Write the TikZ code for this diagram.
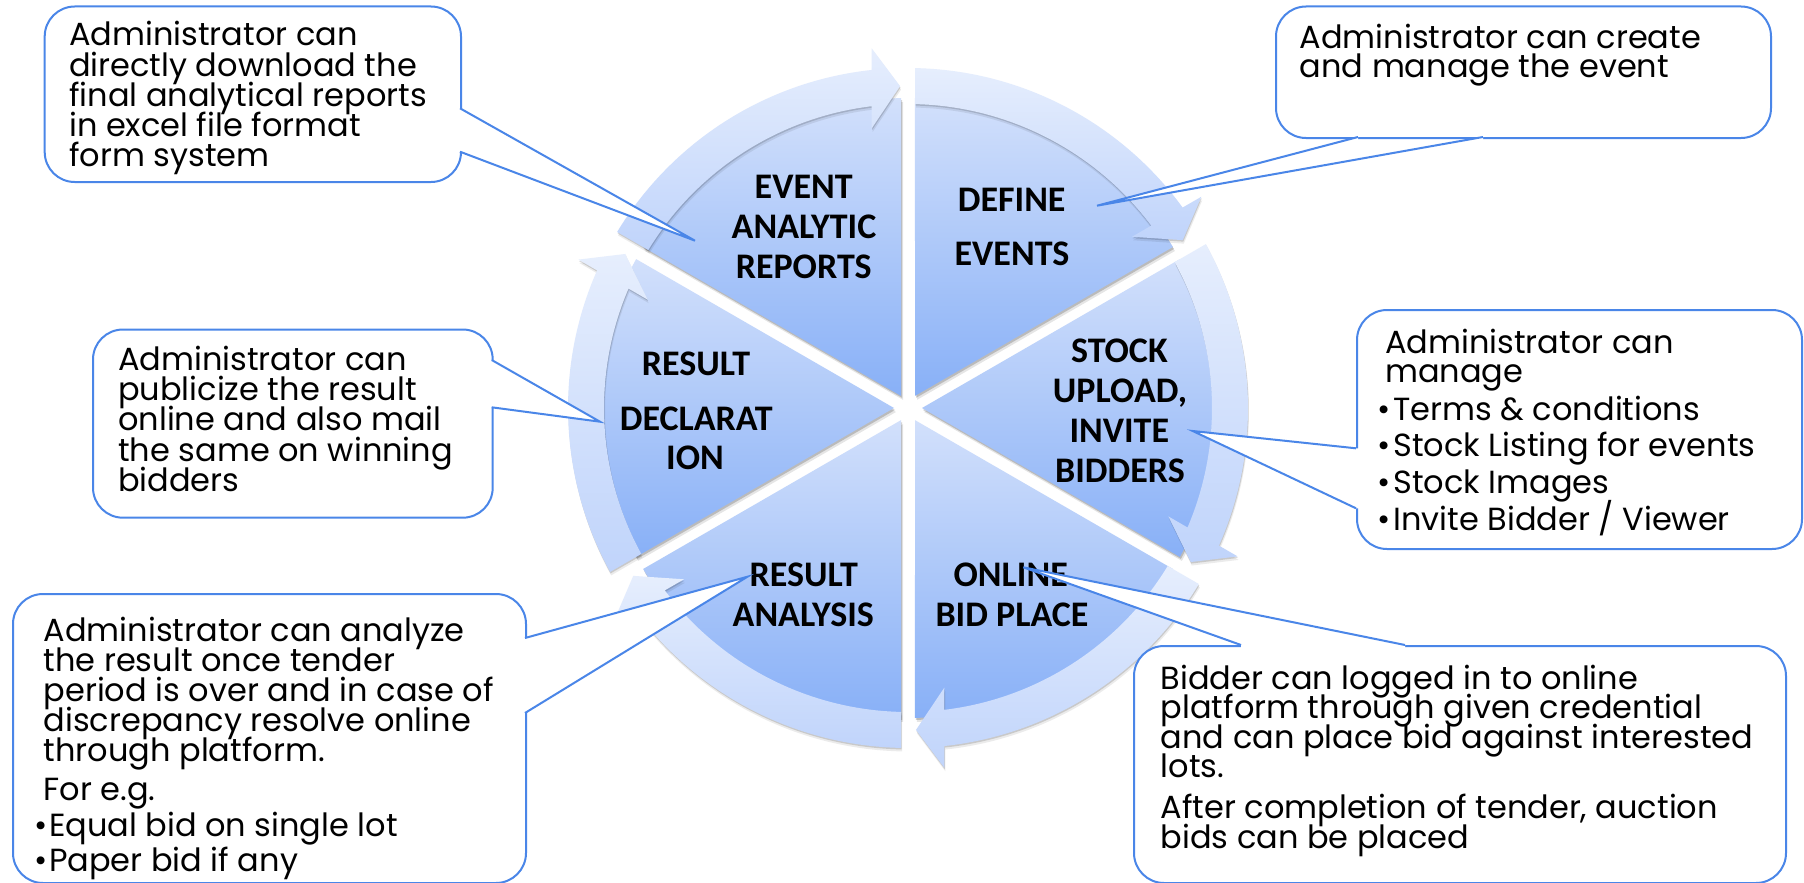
\documentclass[tikz,border=0pt]{standalone}
\usepackage{fontspec}
\newfontfamily\popfont{Poppins}
\newfontfamily\calfont{Carlito}
\usetikzlibrary{shadows,calc}
\definecolor{cblue}{HTML}{4A86E8}
\definecolor{pietop}{HTML}{D2E0FB}
\definecolor{piebot}{HTML}{88B0F7}
\definecolor{bandtop}{HTML}{E6EEFD}
\definecolor{bandbot}{HTML}{C0D4FB}
\newcommand\calloutline[4]{\node[ctext] (#1) at (#2,-#3) {#4};}
\newcommand\wheellabel[4]{\node[lab] (#1) at (#2,-#3) {#4};}
\begin{document}
\begin{tikzpicture}[x=1pt,y=1pt,
  pie/.style={top color=pietop, bottom color=piebot,
    drop shadow={shadow xshift=1pt, shadow yshift=-2pt, opacity=0.18, fill=black},
    drop shadow={shadow xshift=2pt, shadow yshift=-4pt, opacity=0.10, fill=black}},
  band/.style={top color=bandtop, bottom color=bandbot,
    drop shadow={shadow xshift=0.5pt, shadow yshift=-1.5pt, opacity=0.14, fill=black},
    drop shadow={shadow xshift=1pt, shadow yshift=-3.5pt, opacity=0.08, fill=black}},
  lab/.style={font=\calfont\bfseries\fontsize{36}{40}\selectfont, anchor=base, inner sep=0pt},
  ctext/.style={font=\popfont\fontsize{32}{30}\selectfont, anchor=base west, inner sep=0pt},
  callbox/.style={draw=cblue, line width=2pt, fill=white, rounded corners=30pt,
    inner sep=0pt, anchor=north west},
  cline/.style={draw=cblue, line width=2pt, line join=miter},
]
\useasboundingbox (0,0) rectangle (1804,-883);
\fill[white] (0,0) rectangle (1804,-883);

% ---------- wheel ----------
\coordinate (C) at (908,-408);
\begin{scope}[shift={(908,-408)}]
\foreach \s in {150,90,30,-30,-90,-150} {
  \pgfmathsetmacro\e{\s-60}
  \path[pie] (\s-30:14) -- (\s-1.29:310)
     arc[start angle=\s-1.29, end angle=\e+1.29, radius=310] -- cycle;
}
\foreach \s in {150,90,30,-30,-90,-150} {
  \pgfmathsetmacro\e{\s-60}
  \path[band] (\s-1.32:304) -- (\s-1.18:340)
     arc[start angle=\s-1.18, end angle=\e+6.13, radius=340]
     -- (\e+5.76:361.5) -- (\e+1.42:322) -- (\e+7.4:282) -- (\e+6.86:304)
     arc[start angle=\e+6.86, end angle=\s-1.32, radius=304] -- cycle;
}
\end{scope}

\wheellabel{l1a}{803.7}{198.3}{EVENT}
\wheellabel{l1b}{804}{238.3}{ANALYTIC}
\wheellabel{l1c}{803.7}{278.3}{REPORTS}
\wheellabel{l2a}{1011.7}{211.7}{DEFINE}
\wheellabel{l2b}{1012}{265}{EVENTS}
\wheellabel{l3a}{1119.4}{362.3}{STOCK}
\wheellabel{l3b}{1120}{402.3}{UPLOAD,}
\wheellabel{l3c}{1119.3}{442.3}{INVITE}
\wheellabel{l3d}{1120}{482.3}{BIDDERS}
\wheellabel{l4a}{1010.7}{586}{ONLINE}
\wheellabel{l4b}{1012}{626}{BID PLACE}
\wheellabel{l5a}{803.7}{586}{RESULT}
\wheellabel{l5b}{803.3}{626}{ANALYSIS}
\wheellabel{l6a}{696}{375.7}{RESULT}
\wheellabel{l6b}{696.3}{430}{DECLARAT}
\wheellabel{l6c}{695}{469.3}{ION}

% ---------- callout boxes ----------
\node[callbox, minimum width=416.3pt, minimum height=175.5pt] (box1) at (43.7,-5.5) {};
\node[callbox, minimum width=495pt, minimum height=131.5pt] (box2) at (1275,-5.5) {};
\node[callbox, minimum width=445pt, minimum height=239pt] (box3) at (1356,-309) {};
\node[callbox, minimum width=399.7pt, minimum height=188.2pt] (box4) at (92,-328.5) {};
\node[callbox, minimum width=513pt, minimum height=289pt] (box5) at (12,-593) {};
\node[callbox, minimum width=652pt, minimum height=237pt] (box6) at (1133,-645) {};

% wedge points
\coordinate (t1) at (695,-240.7);   \coordinate (a1) at (460,-108.3);  \coordinate (c1) at (460,-151.7);
\coordinate (t2) at (1097,-205.7);  \coordinate (a2) at (1358,-137);   \coordinate (c2) at (1483,-137);
\coordinate (t3) at (1192.7,-431);  \coordinate (a3) at (1356,-448.3); \coordinate (c3) at (1356,-508.3);
\coordinate (t4) at (600,-421.7);   \coordinate (a4) at (491.7,-360);  \coordinate (c4) at (491.7,-407.3);
\coordinate (t5) at (747.5,-576.7); \coordinate (a5) at (525,-638);    \coordinate (c5) at (525,-713);
\coordinate (t6) at (1023.3,-567.3);\coordinate (a6) at (1241,-645);   \coordinate (c6) at (1405,-645);

\fill[white] (t1) -- (a1) -- ($(a1)+(-3,0)$) -- ($(c1)+(-3,0)$) -- (c1) -- cycle;
\fill[white] (t2) -- (a2) -- ($(a2)+(0,-3)$) -- ($(c2)+(0,-3)$) -- (c2) -- cycle;
\fill[white] (t3) -- (a3) -- ($(a3)+(3,0)$) -- ($(c3)+(3,0)$) -- (c3) -- cycle;
\fill[white] (t4) -- (a4) -- ($(a4)+(-3,0)$) -- ($(c4)+(-3,0)$) -- (c4) -- cycle;
\fill[white] (t5) -- (a5) -- ($(a5)+(-3,0)$) -- ($(c5)+(-3,0)$) -- (c5) -- cycle;
\fill[white] (t6) -- (a6) -- ($(a6)+(0,-3)$) -- ($(c6)+(0,-3)$) -- (c6) -- cycle;
\draw[cline] (a1) -- (t1) -- (c1);
\draw[cline] (a2) -- (t2) -- (c2);
\draw[cline] (a3) -- (t3) -- (c3);
\draw[cline] (a4) -- (t4) -- (c4);
\draw[cline] (a5) -- (t5) -- (c5);
\draw[cline] (a6) -- (t6) -- (c6);

% ---------- callout texts ----------
\calloutline{b1a}{69}{46}{Administrator can}
\calloutline{b1b}{69}{76.2}{directly download the}
\calloutline{b1c}{69}{106.4}{final analytical reports}
\calloutline{b1d}{69}{136.6}{in excel file format}
\calloutline{b1e}{69}{166.8}{form system}

\calloutline{b2a}{1299.5}{48.5}{Administrator can create}
\calloutline{b2b}{1299.5}{77.5}{and manage the event}

\calloutline{b3a}{1385}{353.3}{Administrator can}
\calloutline{b3b}{1385}{382}{manage}
\calloutline{b3c}{1377.7}{420}{\makebox[15.6pt][l]{•}Terms \& conditions}
\calloutline{b3d}{1377.7}{456.7}{\makebox[15.6pt][l]{•}Stock Listing for events}
\calloutline{b3e}{1377.7}{493.3}{\makebox[15.6pt][l]{•}Stock Images}
\calloutline{b3f}{1377.7}{530}{\makebox[15.6pt][l]{•}Invite Bidder / Viewer}

\calloutline{b4a}{118}{370}{Administrator can}
\calloutline{b4b}{118}{400.4}{publicize the result}
\calloutline{b4c}{118}{430.8}{online and also mail}
\calloutline{b4d}{118}{461.2}{the same on winning}
\calloutline{b4e}{118}{491.6}{bidders}

\calloutline{b5a}{43.5}{641}{Administrator can analyze}
\calloutline{b5b}{43.5}{671}{the result once tender}
\calloutline{b5c}{43.5}{701}{period is over and in case of}
\calloutline{b5d}{43.5}{731}{discrepancy resolve online}
\calloutline{b5e}{43.5}{761}{through platform.}
\calloutline{b5f}{43.5}{800}{For e.g.}
\calloutline{b5g}{34}{836}{\makebox[15pt][l]{•}Equal bid on single lot}
\calloutline{b5h}{34}{871}{\makebox[15pt][l]{•}Paper bid if any}

\calloutline{b6a}{1160.5}{689}{Bidder can logged in to online}
\calloutline{b6b}{1160.5}{718.5}{platform through given credential}
\calloutline{b6c}{1160.5}{748}{and can place bid against interested}
\calloutline{b6d}{1160.5}{777.5}{lots.}
\calloutline{b6e}{1160.5}{818.5}{After completion of tender, auction}
\calloutline{b6f}{1160.5}{848}{bids can be placed}
\end{tikzpicture}
\end{document}
